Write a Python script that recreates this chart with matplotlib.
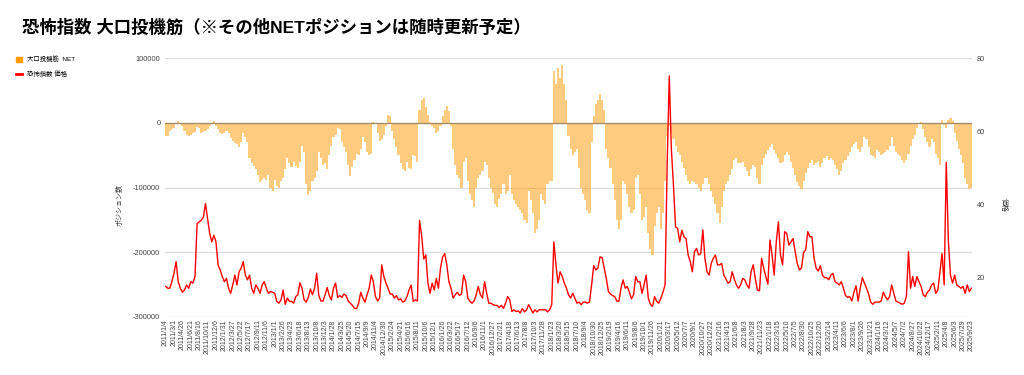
import pandas as pd
import matplotlib
matplotlib.use('Agg')
import matplotlib.pyplot as plt
from matplotlib.patches import Patch
from matplotlib.lines import Line2D

plt.rcParams['font.family'] = ['Liberation Sans', 'Noto Sans CJK JP', 'DejaVu Sans']

# biweekly dates (Tuesdays), 2011/1/4 .. 2025/9/23
dates = pd.date_range('2011-01-04', periods=385, freq='14D')

# large speculators NET position (thousands of contracts)
net_k = [
    -20, -21, -12, -10, -8, 0, 3, -2, -5, -13,
    -18, -20, -19, -16, -14, -6, -8, -15, -14, -12,
    -9, -5, -2, 3, -5, -10, -16, -17, -15, -13,
    -16, -24, -28, -31, -33, -38, -30, -16, -22, -30,
    -55, -62, -66, -72, -80, -91, -88, -86, -88, -80,
    -100, -106, -88, -98, -100, -90, -85, -72, -55, -62,
    -68, -60, -66,
    -70, -60, -35, -45, -95, -112, -105,
    -90, -85, -75, -45, -55, -65, -62, -72, -50, -35,
    -22, -18, -8, -10, -30, -38, -45, -65, -82, -68,
    -58, -48, -50, -40, -22, -30, -45, -50, -48, 2,
    0, -15, -28, -25, -18, -5, 12, 10, -12, -25,
    -38, -50, -62, -72, -75, -60, -70, -72, -50, -52,
    -60, 20, 35, 38, 25, 12, 2, -5, -8,
    -15, -12, -5, 10, 20, 26, 18, -5, -40, -65, -80,
    -85, -100, -60, -55, -90, -110, -120, -130, -100, -85,
    -80, -75, -60, -65, -85, -100, -108, -125, -130, -118,
    -110, -95, -110, -105, -80, -110, -120, -125, -130, -135,
    -140, -150, -155, -105, -120, -140, -170, -165, -150, -110,
    -120, -125, -95, -90, -90, 80, 60, 85, 70, 90,
    60, 35, -20,
    -40, -50, -45, -40, -70, -100, -110,
    -120, -135, -140, -30, 10, 30, 35, 45, 35, 20,
    -40, -55, -70, -95, -120, -150, -165, -150, -90, -95,
    -110, -130, -140, -135, -85, -80, -110, -150, -145, -130,
    -170, -195, -205, -160, -140, -130, -165, -140, -90, -20,
    -5, -15, -25, -35, -45, -50, -60, -70, -80, -90,
    -95, -90, -92, -95, -100, -105, -95, -85,
    -85, -95, -105, -115, -125, -140, -155, -130, -105, -95, -90, -80,
    -72, -58, -55, -62, -62, -60, -68, -75, -82, -72,
    -65, -68, -85, -95, -65, -55, -48, -42, -38, -32,
    -42, -48, -55, -62, -60, -50, -45, -50, -60, -70,
    -80, -92, -98, -102, -90, -78, -70, -62, -58, -65,
    -62, -60, -68, -62, -55, -52, -58, -55, -58,
    -65, -72, -80,
    -75, -62, -58, -52, -45, -38, -32, -30,
    -40, -45, -38, -22, -25, -38, -50, -52, -55, -42,
    -45, -50, -48, -45, -42, -35, -22, -35, -45, -48,
    -52, -58, -62, -58, -48, -35, -25, -18, -8, -2,
    2, -10, -22, -30, -38, -25, -30, -48, -55, -65,
    5, -3, -8, 5, 8, 3, -15, -28, -40, -50,
    -62, -85, -95, -103, -100,
]

# VIX price
vix = [
    17.5, 17.0, 17.0, 18.8, 21.1, 24.3, 18.8, 17.0, 15.9, 16.5,
    17.9, 17.0, 18.8, 18.4, 20.2, 34.7, 35.2, 35.6, 36.5, 40.2,
    36.1, 32.0, 29.7, 31.5, 29.7, 23.4, 22.0, 20.2, 18.8, 19.7,
    17.0, 15.6, 17.9, 20.6, 17.9, 21.5, 22.5, 24.3, 20.6, 19.3,
    20.6, 17.0, 15.6, 17.9, 17.0, 15.6, 17.9, 18.8, 17.0, 15.6,
    16.1, 15.9, 15.6, 13.4, 12.9, 13.8, 16.5, 12.6, 14.3, 13.4,
    13.4, 12.9, 14.7,
    15.2, 18.5, 17.0, 13.8, 13.2, 14.5, 16.8,
    15.2, 17.0, 21.1, 15.0, 13.5, 13.5, 15.2, 17.2, 15.0, 13.8,
    17.0, 18.4, 14.5, 15.0, 14.5, 15.4, 15.0, 13.5, 12.9, 12.3,
    11.5, 11.4, 12.9, 15.9, 14.3, 13.2, 15.2, 17.0, 20.6, 18.8,
    14.7, 13.5, 14.3, 23.4, 20.2, 18.4, 17.0, 15.4, 15.4, 14.3,
    15.0, 13.8, 14.1, 13.2, 13.5, 14.7, 16.5, 17.9, 13.4, 13.8,
    13.5, 35.6, 31.5, 25.0, 26.1, 18.4, 15.6, 18.4, 16.5,
    19.7, 17.0, 22.5, 25.6, 26.5, 23.4, 18.8, 17.0, 14.3, 15.2, 15.9,
    15.0, 15.4, 20.6, 18.8, 14.3, 13.4, 12.9, 13.5, 15.2, 17.5,
    15.2, 14.3, 18.8, 15.6, 12.9, 12.9, 12.5, 12.3, 12.3, 11.7,
    12.3, 11.5, 12.9, 14.7, 13.8, 10.6, 11.1, 10.6, 10.8, 10.2,
    11.4, 10.5, 11.1, 12.5, 11.4, 10.2, 11.1, 10.5, 11.1, 11.1,
    11.1, 11.1, 10.5, 11.1, 12.5, 29.7, 23.4, 18.4, 21.5, 20.2,
    18.4, 17.0, 15.2,
    14.3, 15.6, 14.3, 12.9, 13.2, 12.5, 13.2,
    13.2, 12.9, 13.2, 17.9, 23.2, 22.0, 22.5, 25.6, 25.4, 22.5,
    19.7, 16.1, 15.4, 15.0, 14.7, 13.5, 13.4, 17.0, 19.3, 17.0,
    17.5, 15.9, 14.1, 15.2, 20.2, 18.8, 18.8, 15.6, 17.9, 20.6,
    14.3, 12.6, 12.0, 14.7, 13.4, 12.9, 14.3, 15.9, 17.9, 50.6,
    75.2, 55.2, 45.2, 33.8, 33.4, 29.7, 32.9, 31.1, 30.6, 26.1,
    24.3, 21.5, 27.0, 27.9, 26.1, 26.5, 33.0, 25.2,
    21.5, 20.6, 23.8, 25.2, 26.1, 23.4, 23.4, 23.8, 20.6, 19.5, 18.4, 18.8,
    21.5, 19.5, 17.9, 17.0, 17.9, 19.7, 19.3, 17.9, 17.0, 21.5,
    23.4, 19.7, 16.5, 16.3, 25.2, 22.5, 20.2, 18.1, 30.2, 26.1,
    20.6, 29.7, 35.2, 26.1, 23.4, 32.5, 32.0, 28.8, 29.7, 30.6,
    27.0, 23.8, 22.0, 22.5, 26.8, 27.5, 32.5, 31.1, 31.1, 25.2,
    22.5, 21.7, 23.2, 20.6, 19.9, 19.9, 19.3, 20.6, 21.1,
    18.8, 18.4, 17.9,
    18.8, 17.0, 15.0, 14.5, 14.7, 13.5, 15.9, 17.7,
    13.5, 17.0, 19.9, 18.4, 17.0, 15.4, 13.2, 12.6, 13.2, 13.2,
    13.2, 13.5, 15.9, 14.7, 13.8, 14.7, 17.9, 15.6, 13.5, 13.2,
    12.9, 12.6, 12.9, 14.7, 27.0, 17.0, 20.2, 17.5, 20.2, 18.8,
    17.5, 15.2, 14.7, 15.9, 16.5, 17.9, 18.4, 15.6, 16.5, 21.5,
    26.5, 17.9, 51.5, 30.0, 20.6, 18.4, 20.6, 17.9, 17.5, 17.0,
    17.5, 15.6, 17.9, 16.1, 17.0,
]

title = "恐怖指数 大口投機筋（※その他NETポジションは随時更新予定）"
left_ticks = [-300000, -200000, -100000, 0, 100000]
right_ticks = [20, 40, 60, 80]

labels = [f"{d.year}/{d.month}/{d.day}" for d in dates]
x = list(range(len(dates)))

fig = plt.figure(figsize=(10.24, 3.75), dpi=100)
ax = fig.add_axes([0.1607, 0.1555, 0.789, 0.689])
ax2 = ax.twinx()

ax.bar(x, [v * 1000 for v in net_k], width=1.0, color='#ff9900', alpha=0.5, linewidth=0)
ax.axhline(0, color='#a08a6a', lw=0.9, zorder=3)
ax.set_ylim(-300000, 100000)
ax.set_yticks(left_ticks)
ax.set_yticklabels([str(t) for t in left_ticks])
ax.grid(axis='y', color='#dddddd', lw=0.9)
ax.set_axisbelow(True)
ax.set_xlim(-0.5, len(x) - 0.5)
ax.set_xticks(x[::4])
ax.set_xticklabels(labels[::4], rotation=90)
ax.tick_params(axis='x', length=0, pad=2, labelsize=5, labelcolor='#444444')
ax.tick_params(axis='y', length=0, pad=3, labelsize=5.3, labelcolor='#444444')

ax2.plot(x, vix, color='#ff0000', lw=1.0)
ax2.set_ylim(9.2, 80)
ax2.set_yticks(right_ticks)
ax2.tick_params(axis='y', length=0, pad=3, labelsize=5.3, labelcolor='#444444')

for a in (ax, ax2):
    for s in a.spines.values():
        s.set_visible(False)

fig.text(0.021, 0.950, title, fontsize=12.5, fontweight='bold', va='top', ha='left')
fig.text(120 / 1024, 1 - 205 / 375, "ポジション数", rotation=90, fontsize=5,
         ha='center', va='center', color='#333333')
fig.text(1003 / 1024, 1 - 205 / 375, "価格", rotation=270, fontsize=5,
         ha='center', va='center', color='#333333')

handles = [Patch(color='#ff9900'), Line2D([0], [0], color='#ff0000', lw=2)]
fig.legend(handles, ["大口投機筋  NET", "恐怖指数 価格"], loc='upper left',
           bbox_to_anchor=(10 / 1024, 1 - 50 / 375), frameon=False, fontsize=4.6,
           handlelength=0.9, handleheight=0.9, handletextpad=0.9, labelspacing=1.2)

fig.savefig('out.png', dpi=100)
